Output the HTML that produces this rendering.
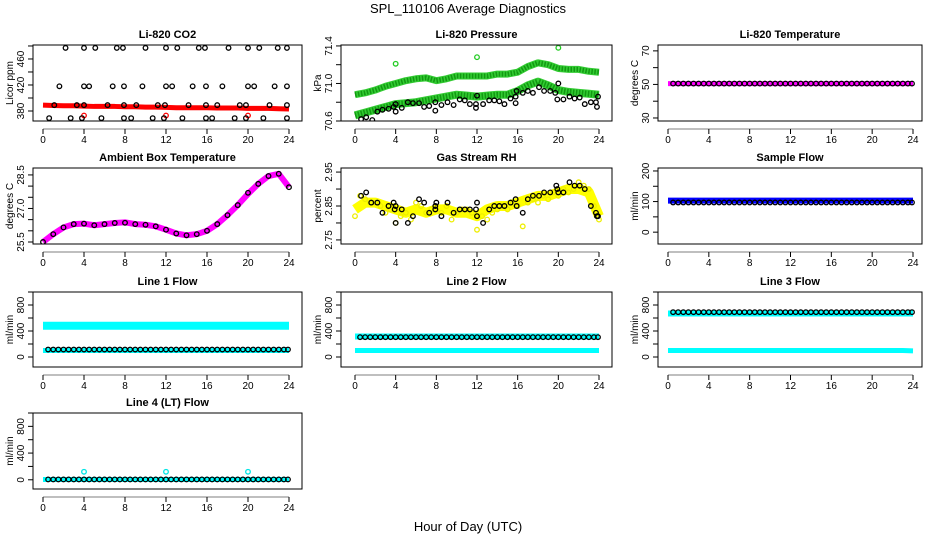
<!DOCTYPE html>
<html><head><meta charset="utf-8">
<style>
html,body{margin:0;padding:0;background:#fff;}
svg{display:block;font-family:"Liberation Sans",Arial,sans-serif;}
</style></head>
<body>
<svg id="chart" width="936" height="540" viewBox="0 0 936 540" xmlns="http://www.w3.org/2000/svg">
<text x="468" y="13" text-anchor="middle" font-size="13">SPL_110106  Average Diagnostics</text>
<text x="468" y="531" text-anchor="middle" font-size="13">Hour of Day (UTC)</text>
</svg>
<script>
const xTicks = [0,4,8,12,16,20,24];
const hoursHourly = [0,1,2,3,4,5,6,7,8,9,10,11,12,13,14,15,16,17,18,19,20,21,22,23,24];
const halfHours = [0.5,1,1.5,2,2.5,3,3.5,4,4.5,5,5.5,6,6.5,7,7.5,8,8.5,9,9.5,10,10.5,11,11.5,12,12.5,13,13.5,14,14.5,15,15.5,16,16.5,17,17.5,18,18.5,19,19.5,20,20.5,21,21.5,22,22.5,23,23.5,23.9];

// CO2
const co2Red = [389,388.5,388,388,387.5,387,387,387,386.5,386.5,386,386,385.5,385,385,385,385,384.5,384.5,384.5,384,384,384,383.5,383];
const co2RedOutHours = [4,12,20];
const co2RedOutVals = [373,373,373];
const co2BlackHours = [2.2,4,5.1,7.2,7.8,10,12,13.1,15.2,15.8,18.1,20,21.1,22.9,23.8, 1.6,4,4.5,6.8,7.9,9.7,12,12.6,14.6,15.9,17.5,20,20.6,22.6,23.8, 1.1,3.3,4,6.3,7.9,9.1,11.2,11.9,14.2,15.9,17,19.2,19.8,22.1,23.8, 0.6,2.7,3.8,5.7,7.9,8.6,10.7,11.8,13.6,15.9,16.5,18.7,19.8,21.5,23.8];
const co2BlackVals = [477,477,477,477,477,477,477,477,477,477,477,477,477,477,477, 418,418,418,418,418,418,418,418,418,418,418,418,418,418,418, 389,389,389,389,389,389,389,389,389,389,389,389,389,389,389, 369,369,369,369,369,369,369,369,369,369,369,369,369,369,369];

// Pressure
const presUpper = [70.88,70.9,70.93,70.97,71.0,71.03,71.05,71.06,71.03,71.05,71.08,71.08,71.08,71.08,71.1,71.1,71.12,71.18,71.22,71.2,71.16,71.15,71.15,71.13,71.12];
const presLower = [70.66,70.69,70.72,70.75,70.78,70.79,70.8,70.82,70.84,70.86,70.88,70.87,70.86,70.87,70.88,70.88,70.92,70.98,71.02,70.98,70.93,70.91,70.9,70.89,70.88];
const presOutHours = [4,12,20];
const presOutVals = [71.21,71.28,71.38];
const presBlackHours = [0.6,1.1,1.7,2.2,2.7,3.3,3.8,4,4,4.6,5.2,5.7,6.3,6.8,7.3,7.9,7.9,8.5,9.1,9.7,10.3,10.8,11.3,11.9,11.9,12,12.6,13.2,13.7,14.2,14.7,15.3,15.8,15.8,15.9,16.5,17,17.5,18.1,18.6,19.2,19.7,19.9,20,20.5,21.1,21.6,22.1,22.6,23.2,23.7,23.8,23.9];
const presBlackVals = [70.62,70.64,70.61,70.7,70.72,70.73,70.75,70.7,70.78,70.74,70.8,70.79,70.79,70.75,70.76,70.71,70.8,70.77,70.8,70.77,70.83,70.82,70.78,70.78,70.74,70.87,70.78,70.82,70.82,70.81,70.78,70.84,70.86,70.79,70.92,70.9,70.92,70.9,70.96,70.92,70.92,70.9,70.83,71.0,70.83,70.86,70.84,70.85,70.78,70.8,70.8,70.75,70.86];

// Li-820 temperature
const tempMag = [50.5,50.5,50.5,50.5,50.5,50.5,50.5,50.5,50.5,50.5,50.5,50.5,50.5,50.5,50.5,50.5,50.5,50.5,50.5,50.5,50.5,50.5,50.5,50.5,50.5];
const tempBlack = [50.5,50.5,50.5,50.5,50.5,50.5,50.5,50.5,50.5,50.5,50.5,50.5,50.5,50.5,50.5,50.5,50.5,50.5,50.5,50.5,50.5,50.5,50.5,50.5,50.5,50.5,50.5,50.5,50.5,50.5,50.5,50.5,50.5,50.5,50.5,50.5,50.5,50.5,50.5,50.5,50.5,50.5,50.5,50.5,50.5,50.5,50.5,50.5];

// Ambient box temperature
const ambient = [25.5,25.85,26.15,26.3,26.32,26.25,26.3,26.35,26.38,26.3,26.27,26.2,26.05,25.88,25.8,25.85,26.0,26.3,26.7,27.15,27.65,28.1,28.45,28.55,27.95];
const ambientBlack = [25.5,25.85,26.15,26.3,26.32,26.25,26.3,26.35,26.36,26.3,26.27,26.2,26.05,25.88,25.8,25.85,26.0,26.3,26.7,27.15,27.7,28.1,28.45,28.55,27.95];

// Gas stream RH
const rhYellow = [2.82,2.88,2.87,2.86,2.86,2.85,2.83,2.84,2.80,2.82,2.83,2.81,2.86,2.85,2.83,2.84,2.84,2.83,2.85,2.81,2.83,2.84,2.84,2.83,2.78,2.82,2.81,2.83,2.84,2.85,2.84,2.86,2.85,2.79,2.86,2.87,2.86,2.88,2.87,2.89,2.88,2.90,2.89,2.90,2.92,2.91,2.90,2.85,2.81];
const rhYellowHours = [0,0.5,1,1.5,2,2.5,3,3.5,4,4.5,5,5.5,6,6.5,7,7.5,8,8.5,9,9.5,10,10.5,11,11.5,12,12.5,13,13.5,14,14.5,15,15.5,16,16.5,17,17.5,18,18.5,19,19.5,20,20.5,21,21.5,22,22.5,23,23.5,24];
const rhBand = [2.84,2.86,2.86,2.85,2.84,2.83,2.84,2.83,2.84,2.84,2.83,2.83,2.82,2.84,2.85,2.85,2.86,2.87,2.88,2.88,2.89,2.90,2.90,2.89,2.82];
const rhBlackHours = [0.6,1.1,1.6,2.2,2.7,3.3,3.8,3.9,4,4,4.6,5.2,5.7,6.3,6.8,7.3,7.9,7.9,8,8.5,9.1,9.7,10.3,10.8,11.3,11.9,12,12,12.6,13.2,13.7,14.2,14.7,15.3,15.8,15.9,16.5,17,17.5,18.1,18.6,19.2,19.8,19.9,20,20.5,21.1,21.6,22.1,22.6,23.2,23.7,23.8,23.9];
const rhBlackVals = [2.88,2.89,2.86,2.86,2.83,2.85,2.86,2.84,2.80,2.85,2.84,2.80,2.82,2.87,2.86,2.83,2.84,2.85,2.86,2.82,2.86,2.83,2.84,2.84,2.84,2.84,2.86,2.82,2.80,2.84,2.85,2.85,2.85,2.86,2.87,2.85,2.83,2.87,2.88,2.88,2.89,2.89,2.91,2.90,2.89,2.89,2.92,2.91,2.91,2.90,2.85,2.83,2.82,2.82];

// Sample flow
const sampleBlue = [103,103,103,103,103,103,103,103,103,103,103,103,103,103,103,103,103,103,103,103,103,103,103,103,103];
const sampleBlack = [97,97,97,97,97,97,97,97,97,97,97,97,97,97,97,97,97,97,97,97,97,97,97,97,97,97,97,97,97,97,97,97,97,97,97,97,97,97,97,97,97,97,97,97,97,97,97,97];

// Line flows
const l1CyanHigh = [480,480,480,480,480,480,480,480,480,480,480,480,480,480,480,480,480,480,480,480,480,480,480,480,480];
const l1CyanLow = [100,100,100,100,100,100,100,100,100,100,100,100,100,100,100,100,100,100,100,100,100,100,100,100,100];
const l1Black = [115,115,115,115,115,115,115,115,115,115,115,115,115,115,115,115,115,115,115,115,115,115,115,115,115,115,115,115,115,115,115,115,115,115,115,115,115,115,115,115,115,115,115,115,115,115,115,115];
const l2CyanHigh = [315,315,315,315,315,315,315,315,315,315,315,315,315,315,315,315,315,315,315,315,315,315,315,315,315];
const l2CyanLow = [100,100,100,100,100,100,100,100,100,100,100,100,100,100,100,100,100,100,100,100,100,100,100,100,100];
const l2Black = [305,305,305,305,305,305,305,305,305,305,305,305,305,305,305,305,305,305,305,305,305,305,305,305,305,305,305,305,305,305,305,305,305,305,305,305,305,305,305,305,305,305,305,305,305,305,305,305];
const l3CyanHigh = [670,670,670,670,670,670,670,670,670,670,670,670,670,670,670,670,670,670,670,670,670,670,670,670,670];
const l3CyanLow = [100,100,100,100,100,100,100,100,100,100,100,100,100,100,100,100,100,100,100,100,100,100,100,100,95];
const l3Black = [690,690,690,690,690,690,690,690,690,690,690,690,690,690,690,690,690,690,690,690,690,690,690,690,690,690,690,690,690,690,690,690,690,690,690,690,690,690,690,690,690,690,690,690,690,690,690,690];
const l4Cyan = [5,5,5,5,5,5,5,5,5,5,5,5,5,5,5,5,5,5,5,5,5,5,5,5,5];
const l4OutHours = [4,12,20];
const l4OutVals = [120,120,120];
const l4Black = [5,5,5,5,5,5,5,5,5,5,5,5,5,5,5,5,5,5,5,5,5,5,5,5,5,5,5,5,5,5,5,5,5,5,5,5,5,5,5,5,5,5,5,5,5,5,5,5];

const NS = "http://www.w3.org/2000/svg";
const svg = document.getElementById('chart');
const cols = [{left:33,right:302,h0:43,h24:289,lab:9},{left:341,right:612,h0:355,h24:599,lab:317},{left:658,right:922,h0:668,h24:913,lab:634}];
const rows = [{top:45,bottom:121},{top:168,bottom:244},{top:292,bottom:367},{top:413,bottom:489}];

function mk(tag, attrs, parent){
  const e = document.createElementNS(NS, tag);
  for (const k in attrs) e.setAttribute(k, attrs[k]);
  (parent||svg).appendChild(e);
  return e;
}

function panel(cfg){
  const c = cols[cfg.col], r = rows[cfg.row];
  const g = mk('g', {});
  
  
  const sx = h => c.h0 + h*(c.h24-c.h0)/24;
  const sy = v => r.bottom - (v-cfg.ylim[0])/(cfg.ylim[1]-cfg.ylim[0])*(r.bottom-r.top);
  const t = mk('text', {x:(c.left+c.right)/2, y:r.top-7, 'text-anchor':'middle', 'font-size':11, 'font-weight':'bold'}, g);
  t.textContent = cfg.title;
  
  
  const yl = mk('text', {x:0, y:0, 'text-anchor':'middle', 'font-size':10, transform:`translate(${c.lab+4},${(r.top+r.bottom)/2}) rotate(-90)`}, g);
  yl.textContent = cfg.ylab;
  
  
  xTicks.forEach(v => {
    const x = sx(v);
    const tk = mk('line', {x1:x, x2:x, y1:r.bottom+8, y2:r.bottom+13, stroke:'#000', 'stroke-width':1}, g);
    
    
    const tl = mk('text', {x:x, y:r.bottom+22, 'text-anchor':'middle', 'font-size':10}, g);
    tl.textContent = v;
    
    
  });
  mk('line', {x1:sx(0), x2:sx(24), y1:r.bottom+8, y2:r.bottom+8, stroke:'#000', 'stroke-width':0.6}, g);
  cfg.yticks.forEach(v => {
    const y = sy(v);
    const tk = mk('line', {x1:c.left-5, x2:c.left, y1:y, y2:y, stroke:'#000', 'stroke-width':1}, g);
    
    
  });
  cfg.ylabels.forEach(v => {
    const y = sy(v);
    const tl = mk('text', {x:0, y:0, 'text-anchor':'middle', 'font-size':10, transform:`translate(${c.left-9},${y}) rotate(-90)`}, g);
    tl.textContent = cfg.fmt ? cfg.fmt(v) : v;
    
    
  });
  const cp = mk('clipPath', {id:'clip-'+cfg.name}, g);
  mk('rect', {x:c.left, y:r.top, width:c.right-c.left, height:r.bottom-r.top}, cp);
  const pg = mk('g', {'clip-path':`url(#clip-${cfg.name})`}, g);
  cfg.series.forEach(s => {
    const sg = mk('g', {}, pg);
    
    
    if (s.band) {
      const pts = s.xs.map((h,i) => sx(h)+','+sy(s.ys[i])).join(' ');
      mk('polyline', {points:pts, fill:'none', stroke:s.color, 'stroke-width':s.band, 'stroke-linejoin':'round', 'stroke-linecap':'butt'}, sg);
      if (s.hatch) mk('polyline', {points:pts, fill:'none', stroke:s.hatch, 'stroke-width':s.band-2, 'stroke-dasharray':'1.5 1.5', 'stroke-linejoin':'round'}, sg);
    }
    if (s.points !== false) {
      s.xs.forEach((h,i) => {
        const p = mk('circle', {cx:sx(h), cy:sy(s.ys[i]), r:s.r||2.3, fill:'none', stroke:s.pcolor||s.color, 'stroke-width':s.sw||1.3}, sg);
        
        
      });
    }
  });
  const box = mk('rect', {x:c.left, y:r.top, width:c.right-c.left, height:r.bottom-r.top, fill:'none', stroke:'#000', 'stroke-width':1}, g);
  
  
}

const flowTicks = [0,200,400,600,800,1000];
const flowLabels = [0,400,800];

panel({name:'co2', col:0, row:0, title:'Li-820 CO2', ylab:'Licor ppm', ylim:[364.6,481.5], yticks:[380,400,420,440,460,480], ylabels:[380,420,460],
  series:[
    {name:'co2-red-band', xs:hoursHourly, ys:co2Red, color:'#ff0000', band:5, points:false},
    {name:'co2-red-outliers', xs:co2RedOutHours, ys:co2RedOutVals, color:'#ff0000'},
    {name:'co2-black-points', xs:co2BlackHours, ys:co2BlackVals, color:'#000'}
  ]});
panel({name:'pressure', col:1, row:0, title:'Li-820 Pressure', ylab:'kPa', ylim:[70.6,71.41], yticks:[70.6,70.8,71.0,71.2,71.4], ylabels:[70.6,71.0,71.4], fmt:v=>v.toFixed(1),
  series:[
    {name:'pressure-green-upper', xs:hoursHourly, ys:presUpper, color:'#33cc33', hatch:'#119911', band:7, points:false},
    {name:'pressure-green-lower', xs:hoursHourly, ys:presLower, color:'#33cc33', hatch:'#119911', band:8, points:false},
    {name:'pressure-green-outliers', xs:presOutHours, ys:presOutVals, color:'#22cc22'},
    {name:'pressure-black-points', xs:presBlackHours, ys:presBlackVals, color:'#000'}
  ]});
panel({name:'li820-temp', col:2, row:0, title:'Li-820 Temperature', ylab:'degrees C', ylim:[28.2,73.5], yticks:[30,40,50,60,70], ylabels:[30,50,70],
  series:[
    {name:'temp-magenta-band', xs:hoursHourly, ys:tempMag, color:'#ff00ff', band:5, points:false},
    {name:'temp-black-points', xs:halfHours, ys:tempBlack, color:'#000', r:2.3}
  ]});
panel({name:'ambient', col:0, row:1, title:'Ambient Box Temperature', ylab:'degrees C', ylim:[25.41,28.81], yticks:[25.5,26,26.5,27,27.5,28,28.5], ylabels:[25.5,27.0,28.5], fmt:v=>v.toFixed(1),
  series:[
    {name:'ambient-magenta-band', xs:hoursHourly, ys:ambient, color:'#ff00ff', band:6, points:false},
    {name:'ambient-black-points', xs:hoursHourly, ys:ambientBlack, color:'#000', r:2.3}
  ]});
panel({name:'rh', col:1, row:1, title:'Gas Stream RH', ylab:'percent', ylim:[2.738,2.962], yticks:[2.75,2.8,2.85,2.9,2.95], ylabels:[2.75,2.85,2.95], fmt:v=>v.toFixed(2),
  series:[
    {name:'rh-yellow-band', xs:hoursHourly, ys:rhBand, color:'#ffff00', band:10, points:false},
    {name:'rh-yellow-points', xs:rhYellowHours, ys:rhYellow, color:'#eeee00'},
    {name:'rh-black-points', xs:rhBlackHours, ys:rhBlackVals, color:'#000'}
  ]});
panel({name:'sample-flow', col:2, row:1, title:'Sample Flow', ylab:'ml/min', ylim:[-38.7,209.7], yticks:[0,50,100,150,200], ylabels:[0,100,200],
  series:[
    {name:'sample-blue-band', xs:hoursHourly, ys:sampleBlue, color:'#0000ff', band:6, points:false},
    {name:'sample-black-points', xs:halfHours, ys:sampleBlack, color:'#000', r:2.3}
  ]});
panel({name:'line1', col:0, row:2, title:'Line 1 Flow', ylab:'ml/min', ylim:[-154,1000], yticks:flowTicks, ylabels:flowLabels,
  series:[
    {name:'line1-cyan-high', xs:hoursHourly, ys:l1CyanHigh, color:'#00ffff', band:8, points:false},
    {name:'line1-cyan-low', xs:hoursHourly, ys:l1CyanLow, color:'#00ffff', band:5, points:false},
    {name:'line1-black-points', xs:halfHours, ys:l1Black, color:'#000', r:2.3}
  ]});
panel({name:'line2', col:1, row:2, title:'Line 2 Flow', ylab:'ml/min', ylim:[-154,1000], yticks:flowTicks, ylabels:flowLabels,
  series:[
    {name:'line2-cyan-high', xs:hoursHourly, ys:l2CyanHigh, color:'#00ffff', band:6, points:false},
    {name:'line2-cyan-low', xs:hoursHourly, ys:l2CyanLow, color:'#00ffff', band:5, points:false},
    {name:'line2-black-points', xs:halfHours, ys:l2Black, color:'#000', r:2.3}
  ]});
panel({name:'line3', col:2, row:2, title:'Line 3 Flow', ylab:'ml/min', ylim:[-154,1000], yticks:flowTicks, ylabels:flowLabels,
  series:[
    {name:'line3-cyan-high', xs:hoursHourly, ys:l3CyanHigh, color:'#00ffff', band:6, points:false},
    {name:'line3-cyan-low', xs:hoursHourly, ys:l3CyanLow, color:'#00ffff', band:5, points:false},
    {name:'line3-black-points', xs:halfHours, ys:l3Black, color:'#000', r:2.3}
  ]});
panel({name:'line4', col:0, row:3, title:'Line 4 (LT) Flow', ylab:'ml/min', ylim:[-138,1000], yticks:flowTicks, ylabels:flowLabels,
  series:[
    {name:'line4-cyan-band', xs:hoursHourly, ys:l4Cyan, color:'#00ffff', band:5, points:false},
    {name:'line4-cyan-outliers', xs:l4OutHours, ys:l4OutVals, color:'#00e5e5'},
    {name:'line4-black-points', xs:halfHours, ys:l4Black, color:'#000', r:2.3}
  ]});
</script>
</body></html>
